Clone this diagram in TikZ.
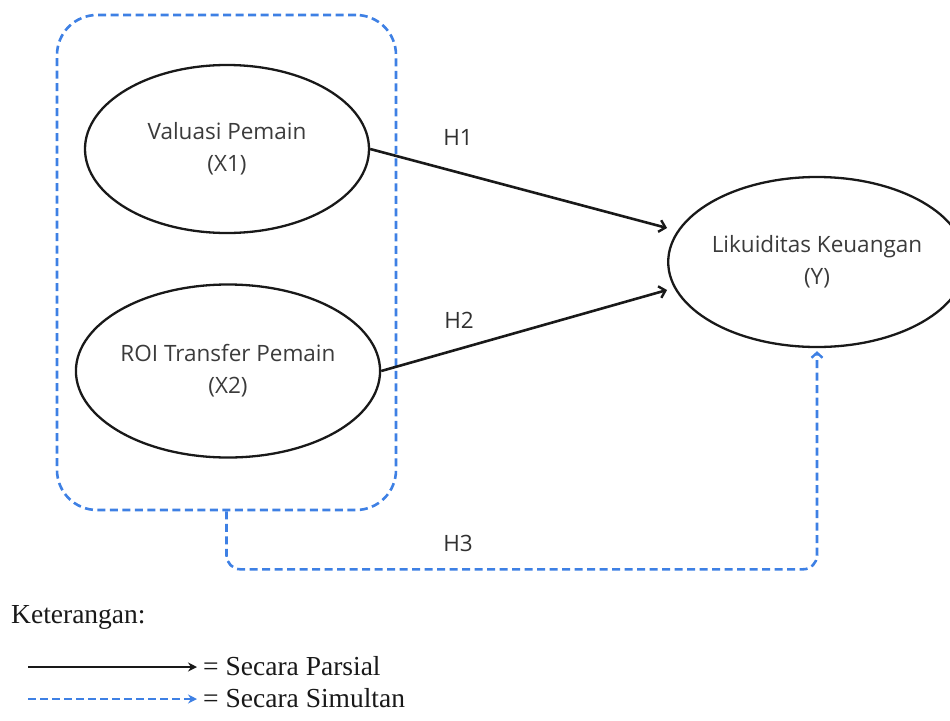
\documentclass[tikz,border=0pt]{standalone}
\usepackage{fontspec}
\setmainfont{Liberation Serif}
\newfontfamily\osans{Open Sans}
\usetikzlibrary{shapes.geometric,arrows.meta,calc}
\definecolor{simblue}{RGB}{62,128,228}
\definecolor{ink}{RGB}{25,25,25}
\tikzset{
  ell/.style={draw=ink, line width=2.3pt, ellipse, inner sep=0pt, align=center,
    font=\osans\fontsize{22.5}{32}\selectfont, text=ink!85},
  hlabel/.style={inner sep=0pt, font=\osans\fontsize{22.5}{26}\selectfont, text=ink!90},
  parsial/.style={draw=ink, line width=2.6pt, -{Straight Barb[length=6pt,width=12pt,line width=2.4pt]}},
  simultan/.style={draw=simblue, line width=2.6pt, dash pattern=on 8pt off 4.5pt},
  legtext/.style={inner sep=0pt, anchor=base west, font=\fontsize{27.5}{30}\selectfont, text=ink}
}
\begin{document}
\begin{tikzpicture}[x=1pt,y=-1pt]
\useasboundingbox (0,0) rectangle (950,720);
% group box
\node[simultan, rounded corners=40pt, minimum width=339pt, minimum height=495pt, inner sep=0pt] (grp) at (226.5,262.5) {};
% variables
\node[ell, minimum width=284pt, minimum height=168pt] (x1) at (227,149) {Valuasi Pemain\\(X1)};
\node[ell, minimum width=292pt, minimum height=173pt] (x2) at (228,371) {ROI Transfer Pemain\\(X2)};
\node[ell, minimum width=288pt, minimum height=170pt] (y) at (817,262) {Likuiditas Keuangan\\(Y)};
% arrows
\draw[parsial] (x1.east) -- ($(y.west)+(0,-34)$);
\draw[parsial] (x2.east) -- ($(y.west)+(0,28)$);
\draw[simultan, rounded corners=14pt, -{Straight Barb[length=5pt,width=11pt,line width=2.4pt]}, shorten >=3pt]
  (grp.south) -- ++(0,58) -| (y.south);
% labels
\node[hlabel] (h1) at (458,137) {H1};
\node[hlabel] (h2) at (459,320) {H2};
\node[hlabel] (h3) at (458,543) {H3};
% legend
\node[legtext] (ket) at (11,623) {Keterangan:};
\coordinate (pa) at (28,667);
\coordinate (pb) at (197,667);
\coordinate (sa) at (28,699);
\coordinate (sb) at (197,699);
\draw[draw=ink, line width=2.6pt, -{Stealth[length=9pt,width=9pt]}] (pa) -- (pb);
\draw[draw=simblue, line width=2.6pt, dash pattern=on 8pt off 4pt, -{Stealth[length=9pt,width=9pt]}] (sa) -- (sb);
\node[legtext] (lp) at (203,675) {= Secara Parsial};
\node[legtext] (ls) at (203,707) {= Secara Simultan};
\end{tikzpicture}
\end{document}
